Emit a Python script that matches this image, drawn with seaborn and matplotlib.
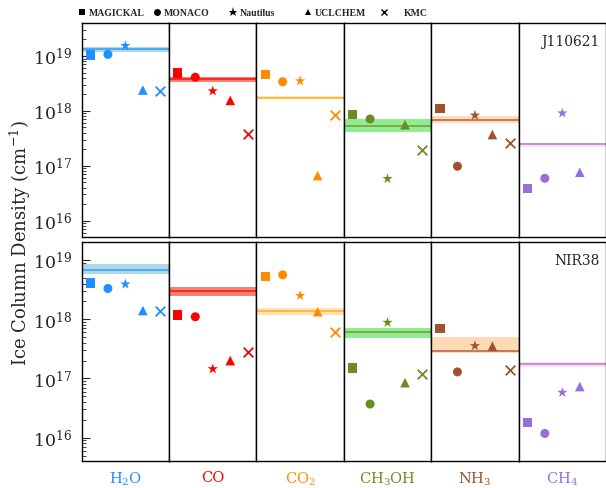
import numpy as np
import pandas as pd
import matplotlib
matplotlib.use("Agg")
import matplotlib.pyplot as plt
import seaborn as sns
from matplotlib.lines import Line2D
from matplotlib.ticker import LogLocator, LogFormatterMathtext, NullFormatter

# ---------------- data ----------------
molecules = ["H2O", "CO", "CO2", "CH3OH", "NH3", "CH4"]
molecule_labels = [r"H$_2$O", "CO", r"CO$_2$", r"CH$_3$OH", r"NH$_3$", r"CH$_4$"]
models = ["MAGICKAL", "MONACO", "Nautilus", "UCLCHEM", "KMC"]
sources = ["J110621", "NIR38"]

# J110621 model predictions (cm^-2), per molecule
j110621_magickal = [1.04e19, 4.9e18, 4.6e18, 8.7e17, 1.12e18, 3.9e16]
j110621_monaco   = [1.07e19, 4.1e18, 3.4e18, 7.1e17, 9.8e16, 5.9e16]
j110621_nautilus = [1.54e19, 2.3e18, 3.5e18, 5.8e16, 8.3e17, 9.1e17]
j110621_uclchem  = [2.4e18, 1.55e18, 6.6e16, 5.6e17, 3.7e17, 7.6e16]
j110621_kmc      = [2.3e18, 3.8e17, 8.5e17, 1.96e17, 2.6e17, np.nan]
# J110621 observations (value, lower, upper)
j110621_obs = [1.32e19, 3.8e18, 1.74e18, 5.2e17, 6.7e17, 2.5e17]
j110621_lo  = [1.20e19, 3.3e18, 1.62e18, 4.2e17, 5.9e17, 2.24e17]
j110621_hi  = [1.45e19, 4.2e18, 1.86e18, 7.1e17, 7.9e17, 2.6e17]

# NIR38 model predictions
nir38_magickal = [4.1e18, 1.18e18, 5.2e18, 1.5e17, 7.0e17, 1.8e16]
nir38_monaco   = [3.3e18, 1.1e18, 5.6e18, 3.7e16, 1.29e17, 1.18e16]
nir38_nautilus = [3.9e18, 1.45e17, 2.5e18, 8.8e17, 3.55e17, 5.8e16]
nir38_uclchem  = [1.4e18, 2.0e17, 1.34e18, 8.5e16, 3.5e17, 7.3e16]
nir38_kmc      = [1.35e18, 2.75e17, 6.2e17, 1.2e17, 1.4e17, np.nan]
# NIR38 observations
nir38_obs = [6.9e18, 2.95e18, 1.36e18, 6.0e17, 2.95e17, 1.78e17]
nir38_lo  = [5.9e18, 2.5e18, 1.17e18, 4.9e17, 2.7e17, 1.58e17]
nir38_hi  = [8.7e18, 3.55e18, 1.55e18, 7.1e17, 5.1e17, 1.9e17]

# ---------------- styles ----------------
marker_colors = ["#1E90FF", "#FF0000", "#FF8C00", "#6B8E23", "#A0522D", "#9370DB"]
line_colors = ["#1E90FF", "#FF0000", "#FFA500", "#6B8E23", "#A0522D", "#9370DB"]
band_colors = ["#ADD8E6", "#FA8072", "#FFE4B5", "#90EE90", "#FFDAB9", "#FFE0E6"]
model_markers = {"MAGICKAL": "s", "MONACO": "o", "Nautilus": "*", "UCLCHEM": "^"}
model_sizes = {"MAGICKAL": 45, "MONACO": 42, "Nautilus": 62, "UCLCHEM": 48}

model_vals = {
    "J110621": [j110621_magickal, j110621_monaco, j110621_nautilus, j110621_uclchem, j110621_kmc],
    "NIR38": [nir38_magickal, nir38_monaco, nir38_nautilus, nir38_uclchem, nir38_kmc],
}
obs_vals = {
    "J110621": (j110621_obs, j110621_lo, j110621_hi),
    "NIR38": (nir38_obs, nir38_lo, nir38_hi),
}

rows = []
for src in sources:
    for mi, model in enumerate(models):
        for ci, mol in enumerate(molecules):
            rows.append(dict(source=src, model=model, slot=mi, molecule=mol,
                             value=model_vals[src][mi][ci]))
df = pd.DataFrame(rows).dropna()

# ---------------- figure ----------------
sns.set_theme(style="ticks")
plt.rcParams["font.family"] = ["DejaVu Serif"]
plt.rcParams["mathtext.fontset"] = "dejavuserif"

fig = plt.figure(figsize=(6.06, 4.89), dpi=100)
gs = fig.add_gridspec(2, 6, left=0.1348, right=1.0, top=0.951, bottom=0.0546,
                      hspace=0.023, wspace=0.0, height_ratios=[214, 219])

ylims = {"J110621": (5e15, 4e19), "NIR38": (4e15, 2e19)}

for r, src in enumerate(sources):
    obs, lo, hi = obs_vals[src]
    for c, mol in enumerate(molecules):
        ax = fig.add_subplot(gs[r, c])
        ax.set_yscale("log")
        ax.axhspan(lo[c], hi[c], color=band_colors[c], lw=0, zorder=1)
        ax.axhline(obs[c], color=line_colors[c], lw=1.2, alpha=0.8, zorder=2)
        sub = df[(df.source == src) & (df.molecule == mol)]
        filled = sub[sub.model != "KMC"]
        sns.scatterplot(data=filled, x="slot", y="value", style="model",
                        markers=model_markers, size="model", sizes=model_sizes,
                        color=marker_colors[c], linewidth=0, legend=False,
                        ax=ax, zorder=3)
        kmc = sub[sub.model == "KMC"]
        if len(kmc):
            sns.scatterplot(data=kmc, x="slot", y="value", marker="x", s=48,
                            color=marker_colors[c], linewidth=1.3, legend=False,
                            ax=ax, zorder=3)
        ax.set_xlim(-0.5, 4.5)
        ax.set_ylim(*ylims[src])
        ax.set_xticks([])
        ax.set_ylabel("")
        if r == 1:
            ax.set_xlabel(molecule_labels[c], color=marker_colors[c],
                          fontsize=10.5, labelpad=6)
        else:
            ax.set_xlabel("")
        for sp in ax.spines.values():
            sp.set_linewidth(1.0)
            sp.set_color("black")
        if c == 0:
            ax.yaxis.set_major_locator(LogLocator(base=10, numticks=10))
            ax.yaxis.set_minor_locator(LogLocator(base=10, subs=np.arange(2, 10), numticks=20))
            ax.yaxis.set_major_formatter(LogFormatterMathtext())
            ax.yaxis.set_minor_formatter(NullFormatter())
            ax.tick_params(axis="y", which="major", direction="in", length=6,
                           width=0.8, labelsize=12.5, pad=7)
            ax.tick_params(axis="y", which="minor", direction="in", length=3, width=0.6)
        else:
            ax.tick_params(axis="y", which="both", left=False, right=False,
                           labelleft=False)
        if c == 5:
            ax.text(0.93, 0.95, src, transform=ax.transAxes, ha="right", va="top",
                    fontsize=10)

fig.text(0.033, 0.503, r"Ice Column Density (cm$^{-1}$)", rotation=90,
         ha="center", va="center", fontsize=13)

# legend entries along the top
leg_markers = ["s", "o", "*", "^", "x"]
leg_x = [78.4, 153.4, 229.4, 304.4, 380.4]
leg_pad = [0.3, 0.3, 0.3, 0.3, 1.6]
for name, mk, x0, pad in zip(models, leg_markers, leg_x, leg_pad):
    h = Line2D([], [], marker=mk, color="black", linestyle="none",
               markersize=5 if mk != "*" else 6.5, markeredgewidth=1.0 if mk == "x" else 0)
    fig.legend(handles=[h], labels=[name], loc="center left",
               bbox_to_anchor=(x0 / 606, 1 - 14 / 489), frameon=False,
               handlelength=0.8, handletextpad=pad, borderpad=0, borderaxespad=0,
               prop={"family": "Liberation Serif", "weight": "bold", "size": 7})

fig.savefig("out.png", dpi=100)
